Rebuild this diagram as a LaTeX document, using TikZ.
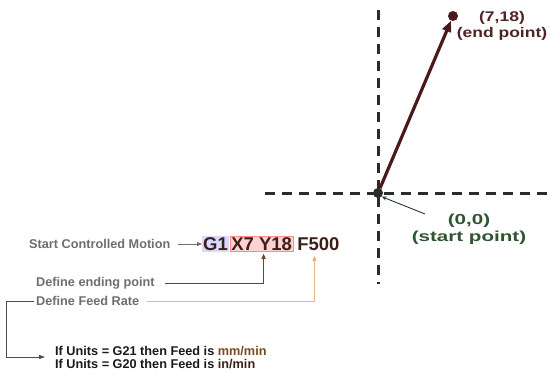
\documentclass[tikz,border=0pt]{standalone}
\usepackage{fontspec}
\setmainfont{Liberation Sans}
\newfontfamily\endfont{Liberation Sans}[FakeStretch=1.25]
\newfontfamily\startfont{Liberation Sans}[FakeStretch=1.42]
\usepackage{xcolor}
\usetikzlibrary{arrows.meta,positioning,calc,backgrounds}
\definecolor{axisgray}{HTML}{2B2B2B}
\definecolor{labelgray}{HTML}{6E6E6E}
\definecolor{codebrown}{HTML}{3A2018}
\definecolor{endred}{HTML}{4E2424}
\definecolor{vecred}{HTML}{4A1A1A}
\definecolor{startgreen}{HTML}{2E5530}
\definecolor{pointbrown}{HTML}{6E4030}
\definecolor{feedpeach}{HTML}{E8B486}
\definecolor{unitbrown}{HTML}{7A4A1E}

\begin{document}
\begin{tikzpicture}[x=1pt,y=-1pt,
    axis/.style={line width=3pt, axisgray, dash pattern=on 10pt off 7pt},
    dot/.style={circle, fill=#1, inner sep=0pt, minimum size=10pt},
    label/.style={font=\fontsize{12.7}{14}\selectfont\bfseries, text=labelgray, anchor=west, inner sep=0pt},
    code/.style={font=\fontsize{18.5}{20}\selectfont\bfseries, text=codebrown, inner sep=1pt},
    pointer/.style={-{Triangle[length=5pt,width=4pt]}, line width=1pt, #1}
]
\useasboundingbox (0,0) rectangle (550,375);

% axes
\draw[axis] (378,10) -- (378,284);
\draw[axis] (265,193) -- (550,193);

% motion vector
\node[dot=axisgray] (origin) at (378,193) {};
\node[dot=vecred] (endpt) at (453,16) {};
\draw[-{Triangle[length=11pt,width=9pt]}, line width=3.2pt, vecred] (origin) -- (endpt);

\node[font=\endfont\fontsize{14}{16}\selectfont\bfseries, text=endred, align=center, inner sep=0pt]
    (endlbl) at (502,26) {(7,18)\\(end point)};
\node[font=\startfont\fontsize{14.5}{17}\selectfont\bfseries, text=startgreen, align=center, inner sep=0pt]
    (startlbl) at (469,229) {(0,0)\\(start point)};
\draw[-{Stealth[length=5pt,width=4pt]}, line width=0.9pt, startgreen!70!black]
    (425,214) -- (origin.south east);

% code line
\node[code, anchor=west] (g1) at (202,244) {G1};
\node[code, right=1pt of g1] (xy) {X7 Y18};
\node[code, right=3pt of xy] (f500) {F500};
\begin{scope}[on background layer]
\fill[blue!25, opacity=0.6] (g1.north west) rectangle (g1.south east);
\draw[red!45, line width=1pt, fill=red!18] (xy.north west) rectangle (xy.south east);
\end{scope}

% annotations
\node[label] (motion) at (29,244) {Start Controlled Motion};
\draw[pointer=labelgray] (motion.east) ++(8,0) -- (g1.west);

\node[label] (ending) at (36,283) {Define ending point};
\draw[pointer=pointbrown] (ending.east) ++(10,0) -| ($(xy.south)+(2,2)$);

\node[label] (feed) at (36,301) {Define Feed Rate};
\draw[pointer=feedpeach] (feed.east) ++(8,0) -| ($(f500.south)+(-4,4)$);

\node[font=\fontsize{12.7}{13}\selectfont\bfseries, text=black!90, anchor=west, align=left, inner sep=0pt]
    (units) at (55,358) {If Units = G21 then Feed is \textcolor{unitbrown}{mm/min}\\If Units = G20 then Feed is \textcolor{codebrown}{in/min}};
\draw[-{Triangle[length=6pt,width=4pt]}, line width=1pt, black!70]
    (feed.west) ++(-2,0) -| (6,357) -- ($(units.west)+(-10,-1)$);
\end{tikzpicture}
\end{document}
